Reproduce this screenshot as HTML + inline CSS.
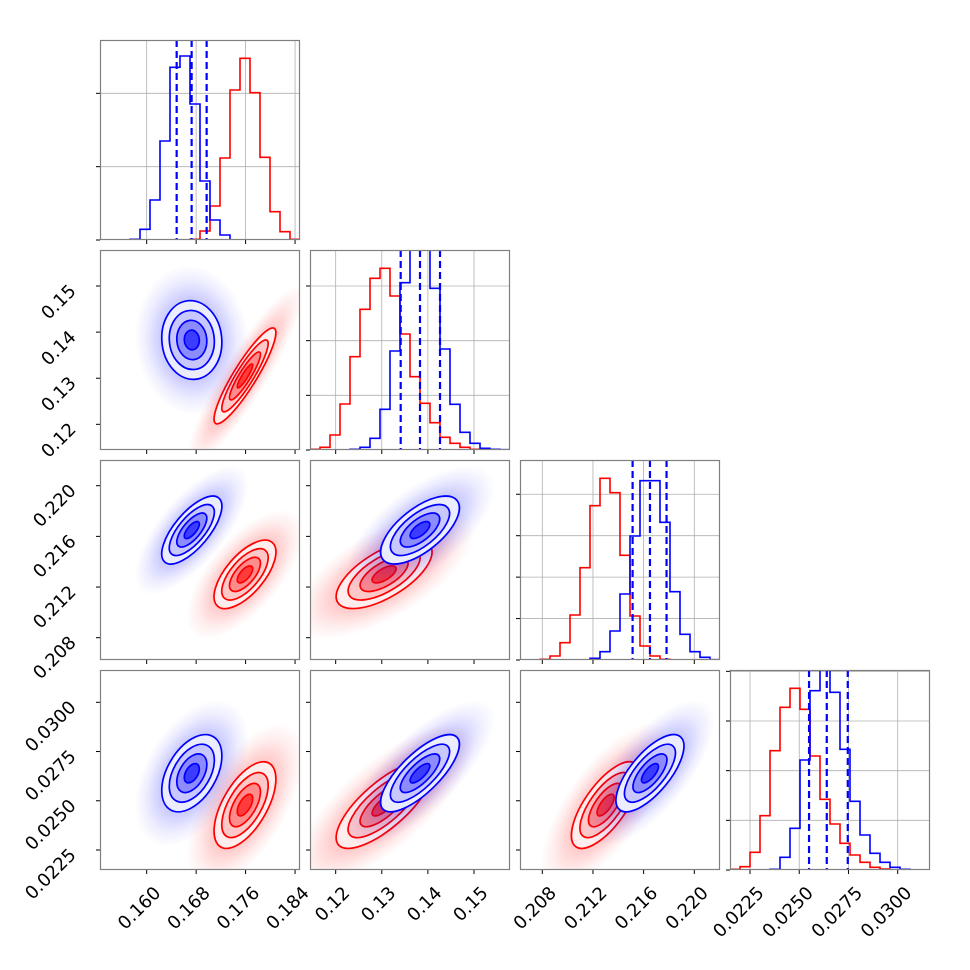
<!DOCTYPE html>
<html><head><meta charset="utf-8"><style>
html,body{margin:0;padding:0;background:#fff;}
svg{display:block;font-family:"DejaVu Sans","Liberation Sans",sans-serif;}
</style></head><body>
<svg id="fig" width="970" height="970" viewBox="0 0 970 970"></svg>
<script>
// ---- data ----
const varRanges = [[0.15245,0.1848],[0.11443,0.15781],[0.20624,0.22203],[0.021484,0.03164]];
const varTicks = [[0.160,0.168,0.176,0.184],[0.12,0.13,0.14,0.15],[0.208,0.212,0.216,0.220],[0.0225,0.0250,0.0275,0.0300]];
const varTickLabels = [["0.160","0.168","0.176","0.184"],["0.12","0.13","0.14","0.15"],["0.208","0.212","0.216","0.220"],["0.0225","0.0250","0.0275","0.0300"]];
const histRed = [
 [0,0,0,0,0,0,0,0,0,2,27,102,246,450,545,442,248,85,25,2],
 [2,8,45,138,280,422,515,545,462,348,220,140,82,38,20,8,2,0,0,0],
 [0,0,2,12,52,135,277,463,545,502,314,132,42,12,2,0,0,0,0,0],
 [2,10,53,163,358,488,545,482,342,212,138,80,45,23,8,3,0,0,0,0]];
const histBlue = [
 [0,0,0,2,32,120,297,518,552,408,177,60,15,0,0,0,0,0,0,0],
 [0,0,0,0,2,8,35,122,297,502,690,690,485,303,137,53,20,5,2,1],
 [0,0,0,0,0,0,0,5,25,87,198,372,538,538,413,205,77,25,8,1],
 [0,0,0,0,2,38,125,330,538,680,533,362,206,105,50,23,8,2,0,0]];
const histMax = 600;
const histTickStep = [220,164,124.3,149];
const blueQuantiles = [[0.16485,0.16727,0.1697],[0.13410,0.13829,0.14263],[0.21513,0.21650,0.21781],[0.025498,0.026398,0.027465]];
const blueMean = [0.1673,0.13829,0.2165,0.026398];
const blueStd = [0.00243,0.00427,0.00134,0.00098];
const redMean = [0.1759,0.1305,0.2130,0.02478];
const redStd = [0.0025,0.0052,0.00135,0.0011];
const blueCorr = [[1,-0.05,0.7,0.45],[-0.05,1,0.65,0.75],[0.7,0.65,1,0.7],[0.45,0.75,0.7,1]];
const redCorr = [[1,0.9,0.65,0.6],[0.9,1,0.65,0.75],[0.65,0.65,1,0.7],[0.6,0.75,0.7,1]];

const NS="http://www.w3.org/2000/svg";
const svg=document.getElementById('fig');
function mk(tag,attrs,parent){const e=document.createElementNS(NS,tag);for(const k in attrs)e.setAttribute(k,attrs[k]);(parent||svg).appendChild(e);return e;}
const S=200, X0=100, Y0=40, G=210, FS=18;
function px(c){return X0+G*c;}
function py(r){return Y0+G*r;}
function sx(v,c,val){const[a,b]=varRanges[v];return px(c)+(val-a)/(b-a)*S;}
function sy(v,r,val){const[a,b]=varRanges[v];return py(r)+S-(val-a)/(b-a)*S;}

const defs=mk('defs',{});
let clipId=0;
function clipFor(c,r){const id='clip'+(clipId++);const cp=mk('clipPath',{id:id},defs);mk('rect',{x:px(c),y:py(r),width:S,height:S},cp);return id;}

function drawFrameTicks(g,c,r,xv,yv,hist){
  varTicks[xv].forEach(t=>{const x=sx(xv,c,t);
    const tk=mk('line',{x1:x,x2:x,y1:py(r)+S,y2:py(r)+S+4,stroke:'#000','stroke-width':1},g);
    
    
  });
  if(hist){
    for(let k=0;k*histTickStep[xv]<=histMax+1;k++){const y=py(r)+S-k*histTickStep[xv]/histMax*S;
      const tk=mk('line',{x1:px(c)-4,x2:px(c),y1:y,y2:y,stroke:'#000','stroke-width':1},g);
      
      
    }
  } else {
    varTicks[yv].forEach(t=>{const y=sy(yv,r,t);
      const tk=mk('line',{x1:px(c)-4,x2:px(c),y1:y,y2:y,stroke:'#000','stroke-width':1},g);
      
      
    });
  }
  const fr=mk('rect',{x:px(c)+0.5,y:py(r)+0.5,width:S-1,height:S-1,fill:'none',stroke:'#808080','stroke-width':1.2},g);
  
  
  if(r===3){
    varTicks[xv].forEach((t,i)=>{const x=sx(xv,c,t)+15,y=894;
      const tx=mk('text',{x:x,y:y,'text-anchor':'end','font-size':FS,transform:`rotate(-45 ${x} ${y})`},g);
      tx.textContent=varTickLabels[xv][i];
      
      
    });
  }
  if(c===0 && !hist){
    varTicks[yv].forEach((t,i)=>{const x=77,y=sy(yv,r,t)+6;
      const tx=mk('text',{x:x,y:y,'text-anchor':'end','font-size':FS,transform:`rotate(-45 ${x} ${y})`},g);
      tx.textContent=varTickLabels[yv][i];
      
      
    });
  }
}

function histPath(v,c,counts){
  const r=v; let d=`M${px(c)},${py(r)+S}`;
  const n=counts.length;
  counts.forEach((h,i)=>{const x0=px(c)+i*S/n,x1=px(c)+(i+1)*S/n;const y=py(r)+S-h/histMax*S;d+=` L${x0},${y} L${x1},${y}`;});
  d+=` L${px(c)+S},${py(r)+S}`;
  return d;
}

for(let v=0;v<4;v++){
  const g=mk('g',{});
  
  
  const c=v,r=v;
  varTicks[v].forEach(t=>{const x=sx(v,c,t);const l=mk('line',{x1:x,x2:x,y1:py(r),y2:py(r)+S,stroke:'#b0b0b0','stroke-width':0.8},g);
    
    });
  for(let k=1;k*histTickStep[v]<=histMax+1;k++){const y=py(r)+S-k*histTickStep[v]/histMax*S;const l=mk('line',{x1:px(c),x2:px(c)+S,y1:y,y2:y,stroke:'#b0b0b0','stroke-width':0.8},g);
    
    }
  const cid=clipFor(c,r);
  const cg=mk('g',{'clip-path':`url(#${cid})`},g);
  const pr=mk('path',{d:histPath(v,c,histRed[v]),fill:'none',stroke:'#ff0000','stroke-width':1.6},cg);
  
  
  const pb=mk('path',{d:histPath(v,c,histBlue[v]),fill:'none',stroke:'#0000ff','stroke-width':1.6},cg);
  
  
  blueQuantiles[v].forEach(q=>{const x=sx(v,c,q);const l=mk('line',{x1:x,x2:x,y1:py(r),y2:py(r)+S,stroke:'#0000ff','stroke-width':2.2,'stroke-dasharray':'7,4'},cg);
    
    });
  drawFrameTicks(g,c,r,v,v,true);
}

const blueFills=['#ececff','#c8c8ff','#8c8cff','#3c3cff'];
const redFills=['#ffecec','#ffc8c8','#ff8c8c','#ff3c3c'];
const levels=[2,1.5,1,0.5];
let gradN=0;
function gauss(g,c,r,xv,yv,mean,std,corr,col,fills,name){
  const kx=S/(varRanges[xv][1]-varRanges[xv][0]),ky=S/(varRanges[yv][1]-varRanges[yv][0]);
  const cx=sx(xv,c,mean[xv]),cy=sy(yv,r,mean[yv]);
  const a=Math.pow(std[xv]*kx,2),d=Math.pow(std[yv]*ky,2),b=-corr[xv][yv]*std[xv]*kx*std[yv]*ky;
  const th=0.5*Math.atan2(2*b,a-d)*180/Math.PI;
  const m=(a+d)/2,q=Math.sqrt(Math.pow((a-d)/2,2)+b*b);
  const s1=Math.sqrt(m+q),s2=Math.sqrt(Math.max(m-q,0.01));
  const gid='grad'+(gradN++);
  const rg=mk('radialGradient',{id:gid},defs);
  mk('stop',{offset:'0%','stop-color':col,'stop-opacity':0.45},rg);
  mk('stop',{offset:'55%','stop-color':col,'stop-opacity':0.2},rg);
  mk('stop',{offset:'80%','stop-color':col,'stop-opacity':0.07},rg);
  mk('stop',{offset:'100%','stop-color':col,'stop-opacity':0},rg);
  const cl=mk('ellipse',{cx:cx,cy:cy,rx:3.8*s1,ry:3.8*s2,fill:`url(#${gid})`,transform:`rotate(${th} ${cx} ${cy})`},g);
  
  
  levels.forEach((L,i)=>{
    const e=mk('ellipse',{cx:cx,cy:cy,rx:L*s1,ry:L*s2,fill:fills[i],stroke:col,'stroke-width':1.7,transform:`rotate(${th} ${cx} ${cy})`},g);
    
    
  });
}

for(let r=1;r<4;r++)for(let c=0;c<r;c++){
  const g=mk('g',{});
  
  
  const cid=clipFor(c,r);
  const cg=mk('g',{'clip-path':`url(#${cid})`},g);
  gauss(cg,c,r,c,r,redMean,redStd,redCorr,'#ff0000',redFills,'red');
  gauss(cg,c,r,c,r,blueMean,blueStd,blueCorr,'#0000ff',blueFills,'blue');
  drawFrameTicks(g,c,r,c,r,false);
}
</script>
</body></html>
